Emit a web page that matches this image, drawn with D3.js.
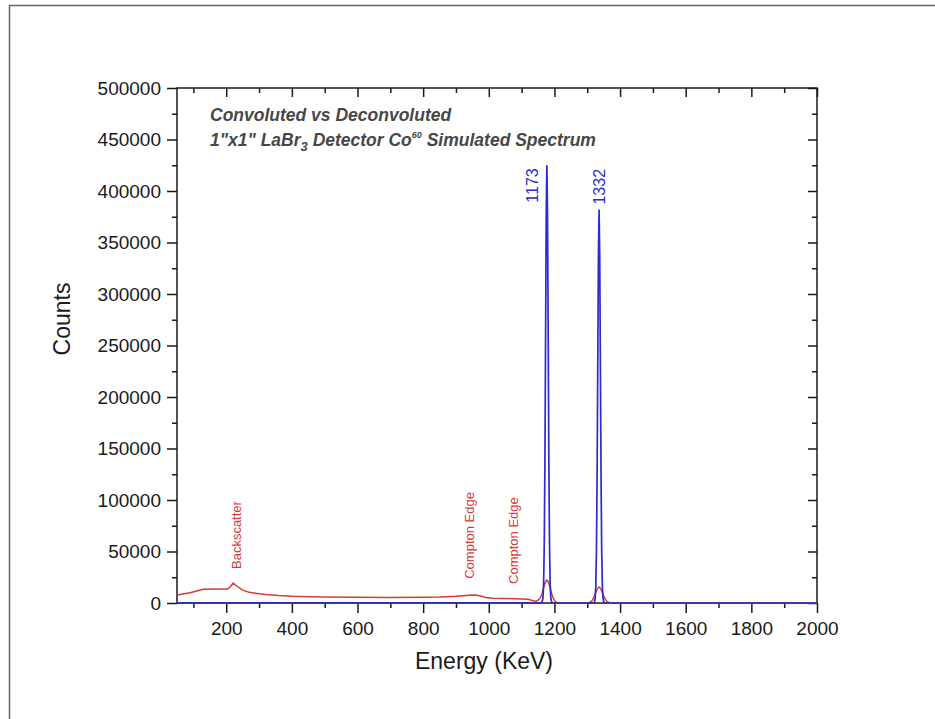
<html>
<head>
    <meta charset="utf-8">
    <title>Co60 Spectrum</title>
    <script src="https://d3js.org/d3.v7.min.js"></script>
    <style>
        body { margin: 0; background: #fff; }
        text { font-family: "Liberation Sans", Arial, sans-serif; }
    </style>
</head>
<body>
<script>
    var width = 935,
        height = 719,
        redColor = "#d43a3a",
        blueColor = "#2b2bd0";

    // convoluted spectrum (red)
    var convEnergy = [50, 90, 130, 170, 205, 213, 221, 232, 250, 270, 290, 320, 360, 400, 450, 500, 600, 700, 800,
        850, 900, 940, 960, 975, 990, 1010, 1050, 1100, 1120, 1135, 1145, 1152, 1157, 1162, 1167, 1172, 1177,
        1182, 1187, 1192, 1197, 1202, 1207, 1217, 1250, 1296, 1306, 1311, 1316, 1321, 1326, 1331, 1336, 1341,
        1346, 1351, 1356, 1361, 1366, 1376, 1400, 2000];
    var convCounts = [7800, 10000, 13300, 13700, 13500, 16000, 19400, 16500, 12500, 10500, 9500, 8300, 7200, 6500, 6100, 5800, 5500, 5400, 5500,
        5800, 6600, 7600, 7700, 6800, 5300, 4700, 4300, 4000, 3600, 2200, 1800, 3200, 4900, 8800, 14700, 20200, 22300,
        20200, 14700, 8800, 4300, 1700, 550, 100, 50, 50, 380, 1200, 3000, 6100, 10200, 14000, 15500, 14000,
        10200, 6100, 3000, 1200, 380, 50, 0, 0];

    // deconvoluted spectrum (blue)
    var deconvEnergy = [50, 1157, 1162, 1165, 1167, 1169, 1171, 1173, 1175, 1177, 1179, 1181, 1183, 1185, 1187, 1189, 1192, 1197,
        1316, 1321, 1324, 1326, 1328, 1330, 1332, 1334, 1336, 1338, 1340, 1342, 1344, 1346, 1348, 1351, 1356, 2000];
    var deconvCounts = [0, 0, 500, 4700, 18500, 57000, 137000, 258000, 375000, 425000, 375000, 258000, 137000, 57000, 18500, 4700, 500, 0,
        0, 450, 4200, 16600, 51000, 123000, 232000, 337000, 382000, 337000, 232000, 123000, 51000, 16600, 4200, 450, 0, 0];

    var xMajorTicks = [200, 400, 600, 800, 1000, 1200, 1400, 1600, 1800, 2000];
    var xMinorTicks = [100, 300, 500, 700, 900, 1100, 1300, 1500, 1700, 1900];
    var yMajorTicks = [0, 50000, 100000, 150000, 200000, 250000, 300000, 350000, 400000, 450000, 500000];
    var yMinorTicks = [25000, 75000, 125000, 175000, 225000, 275000, 325000, 375000, 425000, 475000];

    var peakNames = ["1173", "1332"];
    var peakEnergy = [1177, 1336];
    var peakCounts = [425000, 382000];

    var noteNames = ["Backscatter", "Compton Edge", "Compton Edge"];
    var noteEnergy = [245, 955, 1088];
    var noteCounts = [33000, 23500, 18500];

    var svg = d3.select("body").append("svg")
        .attr("width", width)
        .attr("height", height);

    // outer frame of the original figure
    svg.append("rect")
        .attr("x", 9.5).attr("y", 5.5)
        .attr("width", 1000).attr("height", 1000)
        .attr("fill", "none")
        .attr("stroke", "#666")
        .attr("stroke-width", 1.5);

    var x = d3.scaleLinear().domain([50, 2000]).range([177, 817]);
    var y = d3.scaleLinear().domain([0, 500000]).range([603, 88]);

    function styleAxis(g) {
        g.select(".domain").remove();
        g.selectAll(".tick line").attr("stroke", "#1a1a1a").attr("stroke-width", 1.5);
        g.selectAll(".tick text").attr("fill", "#1a1a1a").style("font-size", "19px")
            .style("font-family", "'Liberation Sans', Arial, sans-serif");
    }

    // bottom
    svg.append("g").attr("transform", "translate(0,603)")
        .call(d3.axisBottom(x).tickValues(xMajorTicks).tickSize(10).tickPadding(9).tickFormat(d3.format("d")))
        .call(styleAxis);
    svg.append("g").attr("transform", "translate(0,603)")
        .call(d3.axisBottom(x).tickValues(xMinorTicks).tickSize(5).tickFormat(""))
        .call(styleAxis);
    // top
    svg.append("g").attr("transform", "translate(0,88)")
        .call(d3.axisTop(x).tickValues(xMajorTicks).tickSize(-9).tickFormat(""))
        .call(styleAxis);
    svg.append("g").attr("transform", "translate(0,88)")
        .call(d3.axisTop(x).tickValues(xMinorTicks).tickSize(-5).tickFormat(""))
        .call(styleAxis);
    // left
    svg.append("g").attr("transform", "translate(177,0)")
        .call(d3.axisLeft(y).tickValues(yMajorTicks).tickSize(10).tickPadding(6).tickFormat(d3.format("d")))
        .call(styleAxis);
    svg.append("g").attr("transform", "translate(177,0)")
        .call(d3.axisLeft(y).tickValues(yMinorTicks).tickSize(5).tickFormat(""))
        .call(styleAxis);
    // right
    svg.append("g").attr("transform", "translate(817,0)")
        .call(d3.axisRight(y).tickValues(yMajorTicks).tickSize(-9).tickFormat(""))
        .call(styleAxis);
    svg.append("g").attr("transform", "translate(817,0)")
        .call(d3.axisRight(y).tickValues(yMinorTicks).tickSize(-5).tickFormat(""))
        .call(styleAxis);

    // frame
    svg.append("rect")
        .attr("x", 177).attr("y", 88)
        .attr("width", 640).attr("height", 515)
        .attr("fill", "none")
        .attr("stroke", "#1a1a1a")
        .attr("stroke-width", 1.5);

    var line = d3.line()
        .x(function (d) { return x(d[0]); })
        .y(function (d) { return y(d[1]); });

    svg.append("path")
        .datum(d3.zip(convEnergy, convCounts))
        .attr("d", line)
        .attr("fill", "none")
        .attr("stroke", redColor)
        .attr("stroke-width", 1.5);

    svg.append("path")
        .datum(d3.zip(deconvEnergy, deconvCounts))
        .attr("d", line)
        .attr("fill", "none")
        .attr("stroke", blueColor)
        .attr("stroke-width", 1.7);

    // axis titles
    svg.append("text")
        .attr("x", 484).attr("y", 669)
        .attr("text-anchor", "middle")
        .style("font-size", "23px")
        .attr("fill", "#1a1a1a")
        .text("Energy (KeV)");

    svg.append("text")
        .attr("transform", "translate(70,319) rotate(-90)")
        .attr("text-anchor", "middle")
        .style("font-size", "23px")
        .attr("fill", "#1a1a1a")
        .text("Counts");

    // title block
    var title = svg.append("g")
        .attr("fill", "#474747")
        .style("font-size", "17.5px")
        .style("font-weight", "bold")
        .style("font-style", "italic");
    title.append("text").attr("x", 210).attr("y", 121).text("Convoluted vs Deconvoluted");
    var t2 = title.append("text").attr("x", 210).attr("y", 146);
    t2.append("tspan").text("1\"x1\" LaBr");
    t2.append("tspan").attr("dy", 5).style("font-size", "13px").text("3");
    t2.append("tspan").attr("dy", -5).text(" Detector Co");
    t2.append("tspan").attr("dy", -8).style("font-size", "9px").text("60");
    t2.append("tspan").attr("dy", 8).text(" Simulated Spectrum");

    // peak labels
    svg.selectAll(".peak").data(peakNames).enter().append("text")
        .attr("class", "peak")
        .attr("transform", function (d, i) {
            if (i === 0) {
                return "translate(" + (x(peakEnergy[i]) - 9) + "," + (y(peakCounts[i]) + 3) + ") rotate(-90)";
            }
            return "translate(" + (x(peakEnergy[i]) + 6) + "," + (y(peakCounts[i]) - 5) + ") rotate(-90)";
        })
        .attr("text-anchor", function (d, i) { return i === 0 ? "end" : "start"; })
        .attr("fill", blueColor)
        .style("font-size", "16px")
        .text(function (d) { return d; });

    // red annotations
    svg.selectAll(".note").data(noteNames).enter().append("text")
        .attr("class", "note")
        .attr("transform", function (d, i) {
            return "translate(" + x(noteEnergy[i]) + "," + y(noteCounts[i]) + ") rotate(-90)";
        })
        .attr("fill", redColor)
        .style("font-size", "13px")
        .text(function (d) { return d; });
</script>
</body>
</html>
